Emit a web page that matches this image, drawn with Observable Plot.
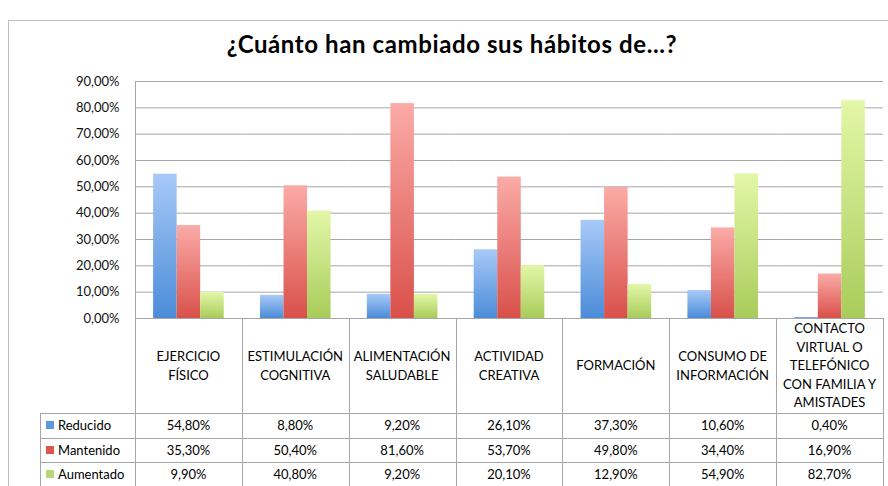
<!DOCTYPE html>
<html><head><meta charset="utf-8">
<script src="https://cdn.jsdelivr.net/npm/d3@7"></script>
<script src="https://cdn.jsdelivr.net/npm/@observablehq/plot@0.6"></script>
<style>
body{margin:0;background:#fff;font-family:Lato,"Open Sans",sans-serif;}
#wrap{position:relative;width:888px;height:486px;overflow:hidden;background:#fff;}
.frame{position:absolute;left:8px;top:20px;width:920px;height:520px;border:1px solid #bfbfbf;}
.title{position:absolute;left:8px;width:888px;top:30px;text-align:center;font-weight:bold;font-size:24px;letter-spacing:0.6px;line-height:1.2;color:#000;}
#chart{position:absolute;left:0;top:60px;}
.ln{position:absolute;background:#a6a6a6;}
.tx{position:absolute;font-size:13px;color:#000;display:flex;align-items:center;justify-content:center;text-align:center;white-space:pre-line;line-height:18.4px;}
.lab{position:absolute;font-size:13px;color:#000;display:flex;align-items:center;}
.sq{display:inline-block;width:8px;height:8px;margin-right:4px;}
</style></head><body>
<div id="wrap"><div class="frame"></div><div class="title">¿Cuánto han cambiado sus hábitos de...?</div><div id="chart"></div></div>
<script>
const categories = ["EJERCICIO\nFÍSICO", "ESTIMULACIÓN\nCOGNITIVA", "ALIMENTACIÓN\nSALUDABLE", "ACTIVIDAD\nCREATIVA", "FORMACIÓN", "CONSUMO DE\nINFORMACIÓN", "CONTACTO\nVIRTUAL O\nTELEFÓNICO\nCON FAMILIA Y\nAMISTADES"];
const series = ["Reducido", "Mantenido", "Aumentado"];
const reducido = [54.8, 8.8, 9.2, 26.1, 37.3, 10.6, 0.4];
const mantenido = [35.3, 50.4, 81.6, 53.7, 49.8, 34.4, 16.9];
const aumentado = [9.9, 40.8, 9.2, 20.1, 12.9, 54.9, 82.7];
const yTicks = [0, 10, 20, 30, 40, 50, 60, 70, 80, 90];
const gradTop = ["#a8c9f8", "#fbaba7", "#e3f7a8"];
const gradBottom = ["#4b8cd8", "#d9504a", "#a8cc5a"];
const swatch = ["#5b98df", "#e0564f", "#b9d977"];

const seriesValues = [reducido, mantenido, aumentado];
const data = [];
categories.forEach((c, i) => series.forEach((s, j) => data.push({category: c, series: s, value: seriesValues[j][i]})));
const fmt = v => v.toFixed(2).replace(".", ",") + "%";
const gradIds = series.map(s => "grad" + s);

const chart = Plot.plot({
  width: 888, height: 265,
  marginTop: 21, marginBottom: 7, marginLeft: 135, marginRight: 5,
  style: {fontFamily: "Lato, sans-serif", fontSize: "13px", color: "#111", background: "transparent", overflow: "visible"},
  fx: {domain: categories, padding: 0, round: false, axis: null},
  x: {domain: series, paddingInner: 0, paddingOuter: 0.77, round: false, axis: null},
  y: {domain: [0, 90], ticks: yTicks, tickFormat: fmt, tickSize: 0, tickPadding: 16, label: null},
  color: {domain: series, range: gradIds.map(id => `url(#${id})`)},
  marks: [
    Plot.gridY(yTicks, {stroke: "#a6a6a6", strokeOpacity: 1}),
    Plot.barY(data, {fx: "category", x: "series", y: "value", fill: "series"})
  ]
});
document.getElementById("chart").appendChild(chart);

const svg = d3.select(chart);
const defs = svg.insert("defs", ":first-child");
gradIds.forEach((id, j) => {
  const g = defs.append("linearGradient").attr("id", id).attr("x1", 0).attr("y1", 0).attr("x2", 0).attr("y2", 1);
  g.append("stop").attr("offset", "0%").attr("stop-color", gradTop[j]);
  g.append("stop").attr("offset", "100%").attr("stop-color", gradBottom[j]);
});
const fx = chart.scale("fx"), y = chart.scale("y");
const x0 = fx.apply(categories[0]);
svg.append("line").attr("x1", Math.round(x0) + 0.5).attr("x2", Math.round(x0) + 0.5)
  .attr("y1", y.apply(90)).attr("y2", y.apply(0)).attr("stroke", "#a6a6a6");

// data table below the chart
const wrap = document.getElementById("wrap");
const top0 = 60 + Math.round(y.apply(0));
const headerH = 95, rowH = 24.5, tableLeft = 40;
const colX = categories.map(c => fx.apply(c));
const bw = fx.bandwidth;
const right = colX[colX.length - 1] + bw;
function div(cls, style, text) {
  const d = document.createElement("div");
  d.className = cls;
  Object.assign(d.style, style);
  if (text != null) d.textContent = text;
  wrap.appendChild(d);
  return d;
}
[...colX, right].forEach(xv => div("ln", {left: Math.round(xv) + "px", top: top0 + "px", width: "1px", height: "200px"}));
div("ln", {left: tableLeft + "px", top: (top0 + headerH) + "px", width: "1px", height: "200px"});
for (let r = 0; r <= series.length; r++) {
  div("ln", {left: tableLeft + "px", top: Math.round(top0 + headerH + r * rowH) + "px", width: (Math.round(right) - tableLeft + 1) + "px", height: "1px"});
}
categories.forEach((c, i) => div("tx", {left: colX[i] + "px", top: top0 + "px", width: bw + "px", height: headerH + "px"}, c));
series.forEach((s, j) => {
  const ty = top0 + headerH + j * rowH;
  const lab = div("lab", {left: (tableLeft + 6) + "px", top: ty + "px", height: rowH + "px"});
  const sq = document.createElement("span"); sq.className = "sq"; sq.style.background = swatch[j];
  lab.appendChild(sq); lab.appendChild(document.createTextNode(s));
  categories.forEach((c, i) => div("tx", {left: colX[i] + "px", top: ty + "px", width: bw + "px", height: rowH + "px"}, fmt(seriesValues[j][i])));
});
</script>
</body></html>
